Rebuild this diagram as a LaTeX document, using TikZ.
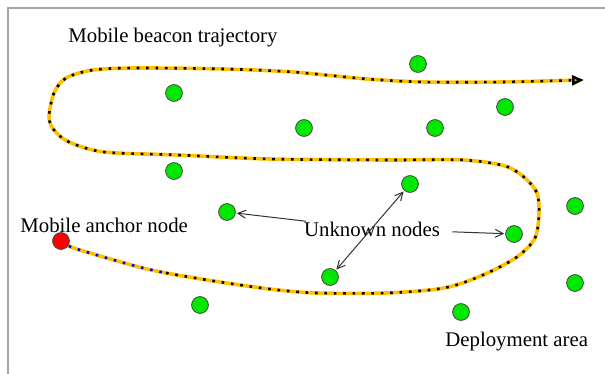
\documentclass[tikz,border=0pt]{standalone}
\usepackage{fontspec}
\setmainfont{Liberation Serif}
\usetikzlibrary{arrows.meta,backgrounds}
\definecolor{trackyellow}{RGB}{255,192,0}
\definecolor{nodegreen}{RGB}{0,232,0}
\tikzset{
  unode/.style  = {circle, draw=black!75, fill=nodegreen, minimum size=8.4pt, inner sep=0pt},
  anode/.style  = {circle, draw=black!75, fill=red, minimum size=8.4pt, inner sep=0pt},
  lbl/.style    = {font=\fontsize{10.4}{12}\selectfont, inner sep=0pt},
  ptr/.style    = {-{Straight Barb[length=4pt,width=4pt]}, black!80, line width=0.5pt, shorten >=0.5pt},
  track/.style  = {trackyellow, line width=1.8pt, line join=round, line cap=round},
  beacon/.style = {line width=1.3pt, dash pattern=on 1.3pt off 3.4pt},
}

\begin{document}
\begin{tikzpicture}[x=0.5pt,y=-0.5pt]
  \useasboundingbox (0,0) rectangle (605,374);
  \draw[black!35, line width=1pt] (8,374) -- (8,8) -- (605,8);
  \foreach \i/\x/\y in {1/418/64, 2/174/93, 3/505/107, 4/304/128, 5/435/128,
      6/174/171, 7/410/184, 8/227/212, 9/575/206, 10/514/234,
      11/330/277, 12/575/283, 13/200/305, 14/461/312}
    \node[unode] (n\i) at (\x,\y) {};
  \node[anode] (anchor) at (61,241) {};
  \node[lbl, anchor=west] (beacontxt) at (68,38) {Mobile beacon trajectory};
  \node[lbl, anchor=west] (anchortxt) at (20,225) {Mobile anchor node};
  \node[lbl, inner xsep=6pt] (unknowntxt) at (372,229) {Unknown nodes};
  \node[lbl, anchor=west] (areatxt) at (445,342) {Deployment area};
  \draw[ptr] (unknowntxt) -- (n8);
  \draw[ptr] (unknowntxt) -- (n10);
  \draw[ptr, {Straight Barb[length=4pt,width=4pt]}-{Straight Barb[length=4pt,width=4pt]}, shorten <=0.5pt] (n11) -- (n7);
  \begin{scope}[on background layer]
    \draw[track] plot[smooth, tension=0.5] coordinates {(anchor) (71,247) (100,256) (139,267)
      (166,273) (201,279) (240,285) (278,290) (317,293) (386,293) (444,288) (483,275)
      (517,257) (535,238) (539,213) (537,193) (525,178) (505,166) (463,160) (386,160)
      (270,159) (178,155) (104,152) (69,142) (54,130) (49,117) (54,93) (66,78) (93,70)
      (135,68) (224,69) (293,72) (367,79) (425,82) (502,82) (578,80)};
    \draw[beacon, blue] plot[smooth, tension=0.5] coordinates {(anchor) (71,247) (100,256)
      (139,267) (166,273)};
    \draw[beacon, -{Triangle[open,length=6pt,width=5pt]}] plot[smooth, tension=0.5] coordinates {(166,273)
      (201,279) (240,285) (278,290) (317,293) (386,293) (444,288) (483,275)
      (517,257) (535,238) (539,213) (537,193) (525,178) (505,166) (463,160) (386,160)
      (270,159) (178,155) (104,152) (69,142) (54,130) (49,117) (54,93) (66,78) (93,70)
      (135,68) (224,69) (293,72) (367,79) (425,82) (502,82) (584,80)};
  \end{scope}
\end{tikzpicture}
\end{document}
